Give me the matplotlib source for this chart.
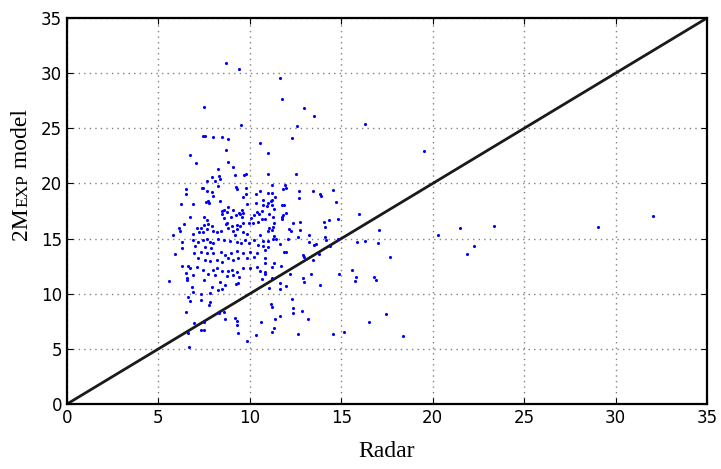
import numpy as np
import matplotlib
matplotlib.use("Agg")
import matplotlib.pyplot as plt

# points, grouped by model band (radar, model)
upper_radar = [8.7, 9.4, 11.65, 11.76, 12.96, 13.5, 7.5, 9.5, 12.6, 16.3,
               7.45, 7.55, 8.0, 8.5, 8.8, 12.3, 10.55, 8.7, 11.0, 19.5,
               6.7, 7.05, 8.8, 9.1, 8.25, 9.2, 9.7, 9.8, 8.3, 7.9,
               11.0, 12.5]
upper_model = [30.9, 30.4, 29.6, 27.7, 26.8, 26.1, 26.9, 25.3, 25.2, 25.4,
               24.3, 24.3, 24.2, 24.2, 24.0, 24.1, 23.7, 23.0, 22.8, 22.9,
               22.6, 21.85, 21.9, 21.5, 21.3, 20.8, 20.75, 20.9, 20.7, 20.6,
               20.9, 20.9]

band18_radar = [7.65, 8.1, 8.35, 8.25, 7.4, 7.45, 6.5, 6.5, 7.65, 7.9,
                8.0, 9.25, 9.3, 9.8, 9.8, 10.35, 10.55, 9.6, 7.7, 6.25,
                6.9, 7.6, 7.75, 9.85, 10.35, 10.7, 8.35, 11.2, 11.9, 11.0,
                11.2, 12.7, 13.45, 13.85, 13.9, 14.55, 11.8, 12.0, 11.4, 12.7,
                11.15, 14.7, 10.7, 10.95, 11.2, 11.85, 11.0, 11.2, 11.75]
band18_model = [20.2, 20.2, 20.4, 19.8, 19.6, 19.6, 19.5, 19.0, 19.3, 19.2,
                18.9, 19.7, 19.5, 19.6, 19.0, 19.0, 19.3, 18.8, 18.4, 18.1,
                18.1, 18.3, 18.2, 18.1, 18.2, 18.5, 18.4, 19.9, 19.9, 19.1,
                19.1, 19.3, 19.3, 19.0, 18.9, 19.4, 19.5, 19.6, 18.8, 18.7,
                18.4, 18.3, 18.0, 17.95, 18.0, 18.0, 18.2, 18.5, 18.0]

band16_radar = [8.5, 8.8, 8.95, 9.25, 9.45, 9.6, 8.5, 8.6, 6.7, 6.4,
                6.1, 6.2, 7.1, 7.35, 7.5, 7.7, 7.9, 7.65, 7.45, 7.2,
                8.0, 8.2, 8.4, 8.7, 8.8, 9.1, 9.3, 9.45, 9.6, 10.05,
                10.2, 10.5, 10.15, 10.45, 7.5, 7.65, 11.3, 11.05, 11.25, 11.75,
                11.75, 12.0, 10.65, 10.85, 11.3, 12.35, 12.75, 12.75, 14.05, 14.3,
                14.1, 14.8, 15.95, 11.0, 11.2, 12.15, 12.25, 17.05, 21.5, 23.35,
                29.05, 32.05, 8.6, 8.75, 9.1, 9.4, 9.55, 10.4, 10.65, 11.8,
                9.55, 8.75, 9.0, 9.3, 9.6, 9.95, 11.05, 11.25]
band16_model = [17.5, 17.9, 17.0, 17.1, 17.2, 17.3, 17.2, 16.9, 17.0, 16.3,
                16.0, 15.7, 16.0, 16.0, 16.2, 16.3, 16.1, 15.9, 15.6, 15.6,
                15.7, 15.6, 15.7, 16.3, 16.0, 15.7, 15.9, 16.1, 15.6, 16.9,
                17.1, 17.2, 16.4, 16.5, 17.0, 16.7, 17.7, 17.2, 17.0, 17.0,
                16.8, 17.3, 16.8, 16.8, 16.4, 16.4, 16.5, 15.8, 16.5, 16.7,
                16.05, 16.8, 17.2, 15.7, 15.8, 15.9, 15.7, 15.8, 16.0, 16.15,
                16.05, 17.05, 17.6, 17.4, 17.6, 17.3, 17.6, 17.4, 17.5, 17.1,
                17.0, 16.4, 16.1, 16.2, 16.4, 16.4, 15.95, 16.05]

band13_radar = [5.8, 6.9, 9.85, 9.2, 10.55, 6.3, 6.3, 6.9, 7.15, 7.45,
                7.65, 7.8, 8.0, 8.25, 8.6, 8.9, 9.3, 9.5, 9.75, 9.95,
                10.2, 10.45, 7.0, 7.55, 7.85, 6.95, 7.3, 7.65, 8.0, 8.4,
                8.65, 8.95, 9.3, 9.6, 10.0, 10.4, 5.9, 7.15, 7.55, 7.8,
                8.2, 8.45, 8.8, 9.1, 9.35, 9.85, 10.2, 6.3, 6.6, 6.7,
                7.1, 7.45, 8.0, 8.2, 8.45, 8.8, 9.0, 9.3, 9.6, 10.0,
                10.4, 11.3, 11.25, 11.45, 12.1, 12.65, 13.25, 13.25, 13.5, 13.6,
                14.1, 14.15, 14.4, 14.8, 15.85, 16.3, 17.0, 10.7, 11.0, 10.7,
                11.0, 11.65, 10.8, 11.85, 12.0, 12.9, 12.95, 13.8, 13.45, 10.85,
                10.85, 11.3, 11.2, 11.7, 20.3, 22.25, 21.85, 17.65]
band13_model = [15.3, 15.4, 15.4, 15.3, 15.3, 14.7, 14.1, 14.9, 14.7, 14.9,
                15.0, 14.7, 14.6, 15.0, 14.9, 14.8, 14.7, 14.6, 14.9, 14.6,
                14.9, 14.4, 14.3, 14.2, 14.1, 13.7, 13.8, 13.7, 13.7, 13.8,
                13.5, 13.7, 13.9, 13.7, 13.8, 13.7, 13.6, 13.2, 13.1, 13.0,
                13.1, 12.9, 13.2, 13.05, 13.2, 13.2, 13.3, 12.5, 12.5, 12.3,
                12.4, 12.15, 12.15, 12.3, 12.05, 12.05, 12.15, 12.0, 12.3, 12.3,
                12.4, 15.2, 15.0, 14.95, 14.95, 15.1, 15.3, 14.7, 14.4, 14.5,
                15.1, 14.85, 14.3, 14.95, 14.7, 14.75, 14.6, 14.8, 14.8, 14.3,
                14.25, 14.5, 14.0, 13.8, 13.8, 13.5, 13.35, 13.6, 13.05, 13.2,
                12.75, 12.75, 12.45, 12.5, 15.3, 14.3, 13.6, 13.3]

lower_radar = [6.5, 6.9, 7.7, 8.1, 8.75, 9.1, 9.4, 6.55, 6.55, 7.5,
               8.35, 8.65, 9.25, 9.35, 5.6, 6.85, 7.95, 8.25, 8.45, 6.9,
               7.3, 6.6, 7.8, 7.3, 6.7, 7.8, 7.75, 6.5, 8.6, 8.3,
               8.65, 9.2, 9.3, 6.95, 7.5, 7.3, 7.5, 6.6, 9.35, 9.3,
               10.35, 9.85, 6.65, 10.55, 10.8, 10.8, 12.2, 13.35, 14.9, 15.6,
               15.8, 15.75, 16.8, 16.9, 12.9, 12.95, 11.2, 10.65, 11.05, 11.65,
               11.65, 12.0, 13.85, 12.3, 11.15, 11.2, 12.35, 12.35, 12.85, 11.65,
               11.35, 13.2, 10.6, 16.5, 11.3, 11.2, 12.65, 14.55, 15.15, 17.45,
               18.4]
lower_model = [11.9, 11.7, 11.8, 11.7, 11.6, 11.7, 11.5, 11.4, 11.25, 11.25,
               11.1, 10.8, 10.9, 10.95, 11.15, 10.6, 10.6, 10.3, 10.4, 10.15,
               9.95, 9.7, 10.05, 9.4, 9.35, 9.25, 9.0, 8.35, 8.35, 8.25,
               7.7, 7.8, 7.5, 7.35, 7.4, 6.7, 6.7, 6.4, 6.4, 7.15,
               6.25, 5.7, 5.2, 12.05, 12.0, 11.8, 11.8, 11.8, 11.8, 12.15,
               11.5, 11.15, 11.5, 11.25, 11.4, 11.1, 11.4, 11.3, 10.5, 10.95,
               10.4, 10.7, 10.8, 9.5, 9.05, 8.8, 8.7, 8.25, 8.4, 7.95,
               7.7, 7.7, 7.4, 7.4, 6.9, 6.55, 6.35, 6.35, 6.5, 8.15,
               6.15]

radar = np.array(upper_radar + band18_radar + band16_radar + band13_radar + lower_radar)
model = np.array(upper_model + band18_model + band16_model + band13_model + lower_model)

ticks = [0, 5, 10, 15, 20, 25, 30, 35]
lim = 35

fig = plt.figure(figsize=(7.21, 4.69), dpi=100)
ax = fig.add_axes([0.093, 0.1386, 0.8876, 0.823])

ax.plot([0, lim], [0, lim], color="#1a1a1a", lw=2, zorder=2)
ax.plot(radar, model, ".", color="blue", markersize=4.5, markeredgewidth=0, zorder=3)

ax.set_xlim(0, lim)
ax.set_ylim(0, lim)
ax.set_xticks(ticks)
ax.set_yticks(ticks)
ax.grid(True, color="0.5", linestyle=(0, (1, 3)), linewidth=1)
ax.set_axisbelow(True)
ax.tick_params(direction="in", top=True, right=True, labelsize=12, length=4)
for s in ax.spines.values():
    s.set_linewidth(1.6)

serif = ["Liberation Serif", "DejaVu Serif"]
ax.set_xlabel("Radar", fontsize=17, family=serif, labelpad=10)

# y label with small caps "EXP"
t1 = ax.text(-0.062, 0.425, "2M", transform=ax.transAxes, rotation=90,
             rotation_mode="anchor", ha="left", va="baseline",
             fontsize=17, family=serif)
t2 = ax.annotate("EXP", xy=(-0.062, 1.0), xycoords=("axes fraction", t1),
                 rotation=90, rotation_mode="anchor", ha="left", va="baseline",
                 fontsize=12.5, family=serif, annotation_clip=False)
t3 = ax.annotate(" model", xy=(-0.062, 1.0), xycoords=("axes fraction", t2),
                 rotation=90, rotation_mode="anchor", ha="left", va="baseline",
                 fontsize=17, family=serif, annotation_clip=False)

fig.savefig("out.png", dpi=100)
